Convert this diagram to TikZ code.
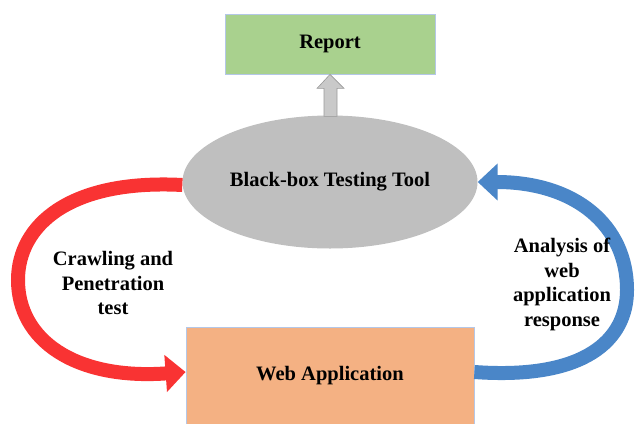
\documentclass[tikz,border=0pt]{standalone}
\usepackage{fontspec}
\setmainfont{Liberation Serif}
\usetikzlibrary{shapes.geometric,arrows.meta}
\definecolor{reportgreen}{HTML}{A9D18E}
\definecolor{apporange}{HTML}{F4B183}
\definecolor{toolgray}{HTML}{BFBFBF}
\definecolor{edgeblue}{HTML}{B4C7E7}
\definecolor{loopred}{HTML}{F93333}
\definecolor{loopblue}{HTML}{4A86C8}
\tikzset{
  box/.style={rectangle, draw=edgeblue, line width=0.8pt, inner sep=0pt},
  lbl/.style={align=center, font=\fontsize{20.5}{24.5}\selectfont\bfseries},
  loop/.style={line width=14pt, -{Triangle[length=20pt,width=36pt]}}
}
\begin{document}
\begin{tikzpicture}[x=1pt,y=-1pt,font=\fontsize{20.5}{24.5}\selectfont]
  \useasboundingbox (0,0) rectangle (636,423);
  % boxes and tool
  \node[box, fill=reportgreen, minimum width=210pt, minimum height=60pt] (report) at (330,44) {\bfseries Report};
  \node[ellipse, fill=toolgray, minimum width=295pt, minimum height=133pt, inner sep=0pt] (tool) at (330,182) {\bfseries Black-box Testing Tool};
  \node[box, fill=apporange, minimum width=288pt, minimum height=98pt] (webapp) at (330,376) {\bfseries Web Application};
  % gray block arrow to the report
  \draw[fill=toolgray!85, draw=gray!80, line width=0.6pt]
    (report.south) -- ++(14,14) -- ++(-7,0) -- ++(0,28) -- ++(-13,0)
    -- ++(0,-28) -- ++(-7,0) -- cycle;
  % loop arrows
  \coordinate (redin) at ([yshift=4pt]webapp.west);
  \coordinate (bluein) at ([yshift=4pt]webapp.east);
  \draw[loop, loopred] ([yshift=-3pt]tool.west) .. controls (70,179) and (18,225) .. (18,280)
    .. controls (18,340) and (75,380) .. (redin);
  \draw[loop, loopblue] (bluein) .. controls (585,380) and (627,340) .. (627,290)
    .. controls (627,225) and (575,182) .. (tool.east);
  % labels
  \node[lbl] (crawl) at (113,283) {Crawling and\\Penetration\\test};
  \node[lbl] (analysis) at (562,284.5) {Analysis of\\web\\application\\response};
\end{tikzpicture}
\end{document}
